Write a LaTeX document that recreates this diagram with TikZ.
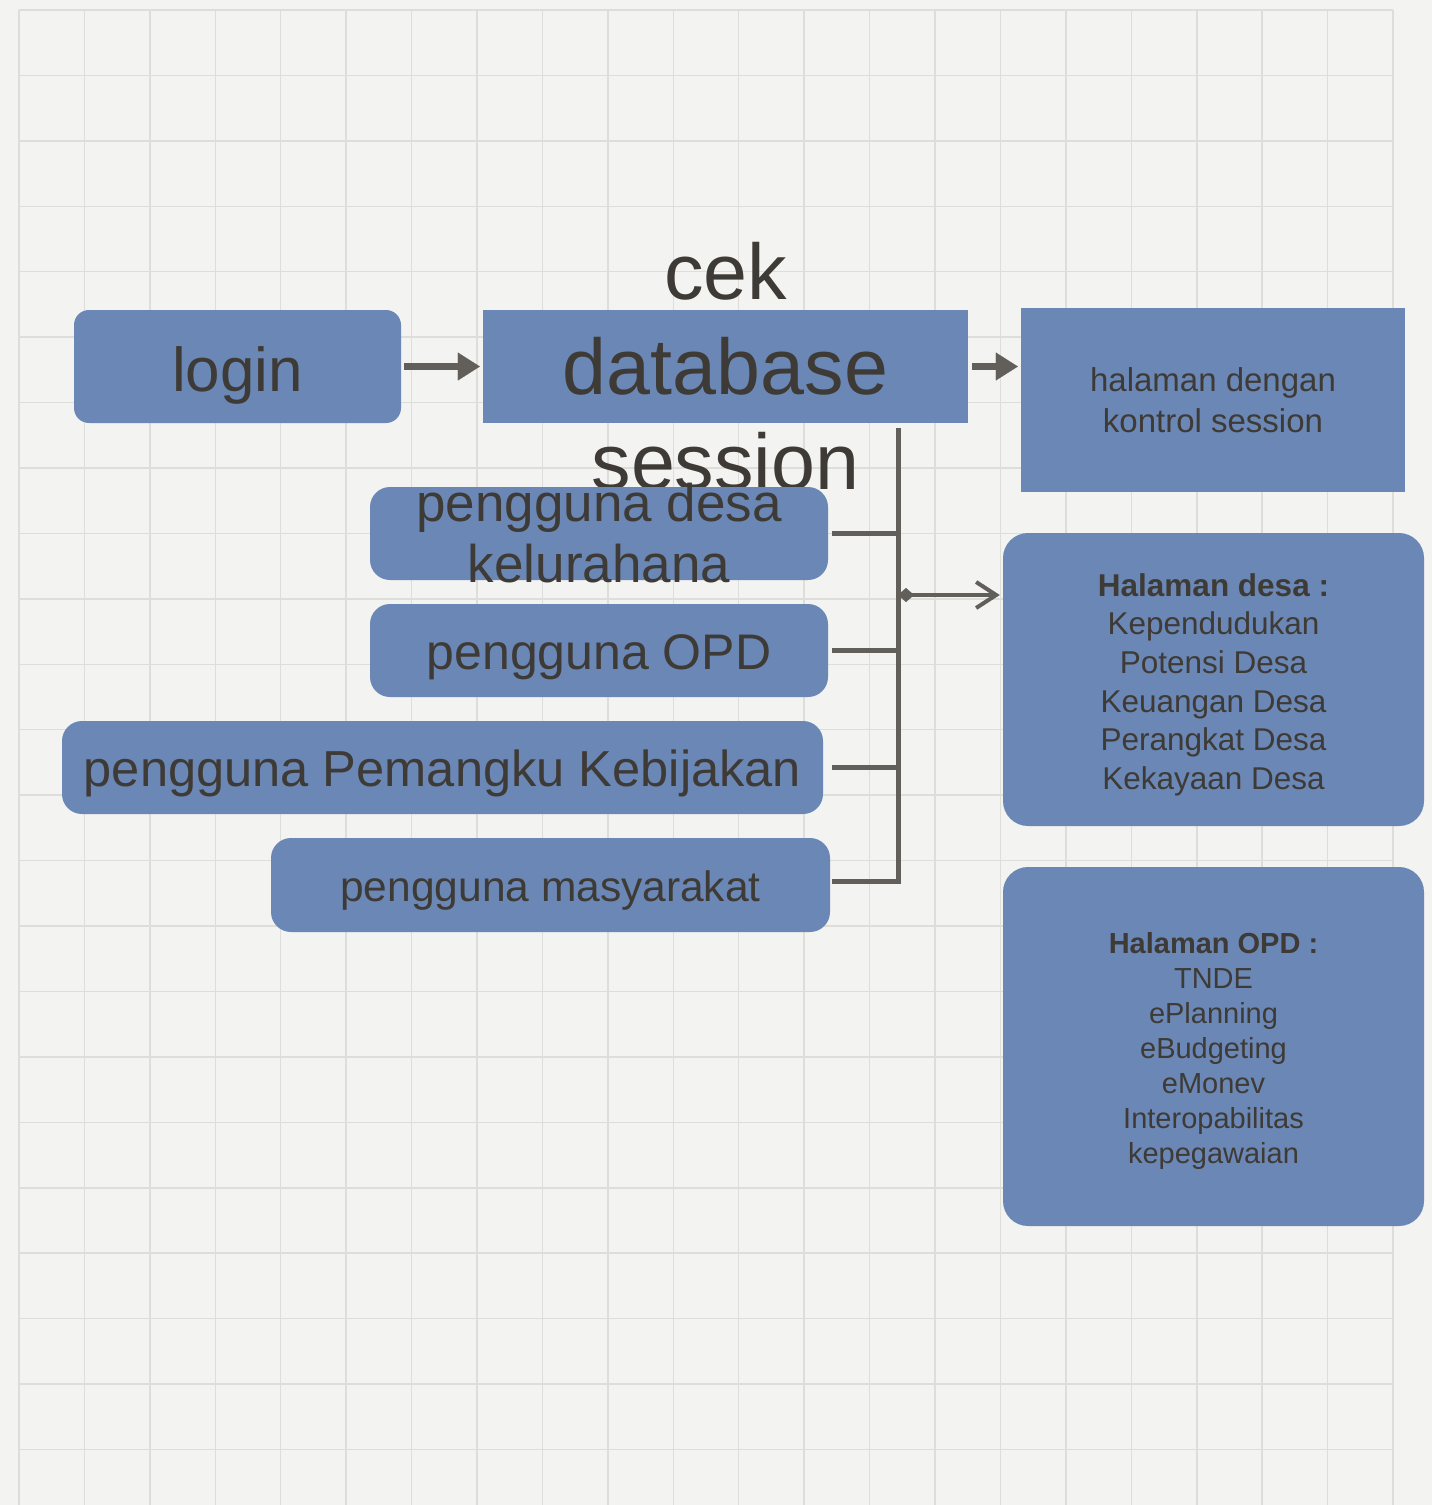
\documentclass[tikz,border=0pt]{standalone}
\usepackage{fontspec}
\setmainfont{Liberation Sans}
\usetikzlibrary{arrows.meta,calc}
\definecolor{boxblue}{RGB}{106,135,181}
\definecolor{txt}{RGB}{62,58,54}
\definecolor{conn}{RGB}{98,95,91}
\definecolor{bgc}{RGB}{243,243,241}
\definecolor{gridc}{RGB}{221,221,218}
\newcommand{\myfs}[2]{\fontsize{#1}{#2}\selectfont}
\begin{document}
\begin{tikzpicture}[x=1pt,y=-1pt,
  box/.style={fill=boxblue, draw=none, text=txt, align=center, inner sep=0pt},
  link/.style={draw=conn, line width=5pt},
]
\useasboundingbox (0,0) rectangle (1432,1505);
\fill[bgc] (0,0) rectangle (1432,1505);
\foreach \i in {0,...,21} \draw[gridc, line width=1.5pt] ({19+65.43*\i},10) -- ({19+65.43*\i},1505);
\foreach \j in {0,...,22} \draw[gridc, line width=1.5pt] (19,{10+65.43*\j}) -- (1393,{10+65.43*\j});

% nodes
\node[box, rounded corners=15pt, minimum width=327pt, minimum height=113pt, text height=49pt, text depth=0pt, font=\myfs{62}{70}] (login) at (237.5,366.5) {login};
\node[box, minimum width=485pt, minimum height=113pt,
  label={[text=txt, align=center, inner sep=0pt, font=\myfs{79}{95}]center:cek\\database\\session}] (db) at (725.5,366.5) {};
\node[box, minimum width=384pt, minimum height=184pt, font=\myfs{33}{41}] (hal) at (1213,400) {halaman dengan\\kontrol session};
\node[box, rounded corners=20pt, minimum width=458pt, minimum height=93pt,
  label={[text=txt, align=center, inner sep=0pt, font=\myfs{53}{61}]center:pengguna desa\\kelurahana}] (p1) at (599,533.5) {};
\node[box, rounded corners=20pt, minimum width=458pt, minimum height=93pt, text height=38pt, text depth=0pt, font=\myfs{50}{58}] (p2) at (599,650.5) {pengguna OPD};
\node[box, rounded corners=20pt, minimum width=761pt, minimum height=93pt, text height=38pt, text depth=0pt, font=\myfs{50.6}{58}] (p3) at (442.5,767.5) {pengguna Pemangku Kebijakan};
\node[box, rounded corners=20pt, minimum width=559pt, minimum height=94pt, text height=32pt, text depth=0pt, font=\myfs{42.5}{50}] (p4) at (550.5,885) {pengguna masyarakat};
\node[box, rounded corners=25pt, minimum width=421pt, minimum height=293pt, font=\myfs{31.5}{38.6}] (hd) at (1213.5,679.5) {\rule{0pt}{33pt}\textbf{Halaman desa :}\\Kependudukan\\Potensi Desa\\Keuangan Desa\\Perangkat Desa\\Kekayaan Desa};
\node[box, rounded corners=25pt, minimum width=421pt, minimum height=359pt, font=\myfs{29}{35}] (ho) at (1213.5,1046.5) {\rule{0pt}{30pt}\textbf{Halaman OPD :}\\TNDE\\ePlanning\\eBudgeting\\eMonev\\Interopabilitas\\kepegawaian};

% connectors
\draw[draw=conn, line width=7pt, -{Triangle[length=22pt,width=28pt,line width=0.1pt]}] ($(login.east)+(3,0)$) -- ($(db.west)+(-3,0)$);
\draw[draw=conn, line width=7pt, -{Triangle[length=22pt,width=28pt,line width=0.1pt]}] ($(db.east)+(4,0)$) -- ($(db.east -| hal.west)+(-3,0)$);

\coordinate (bt) at (898,428);
\coordinate (bb) at (898,881);
\coordinate (jn) at (898,595);
\draw[link, miter limit=10] (bt) -- (bb) -- ($(p4.east |- bb)+(2,0)$);
\draw[link] ($(p1.east)+(4,0)$) -- (p1.east -| bt);
\draw[link] ($(p2.east)+(4,0)$) -- (p2.east -| bt);
\draw[link] ($(p3.east)+(9,0)$) -- (p3.east -| bt);
\draw[draw=conn, fill=conn, line width=4pt, {Diamond[length=16pt,width=14pt,line width=0.1pt]}-{Straight Barb[length=20pt,width=26pt]}] (jn) -- ($(jn -| hd.west)+(-3,0)$);
\end{tikzpicture}
\end{document}
